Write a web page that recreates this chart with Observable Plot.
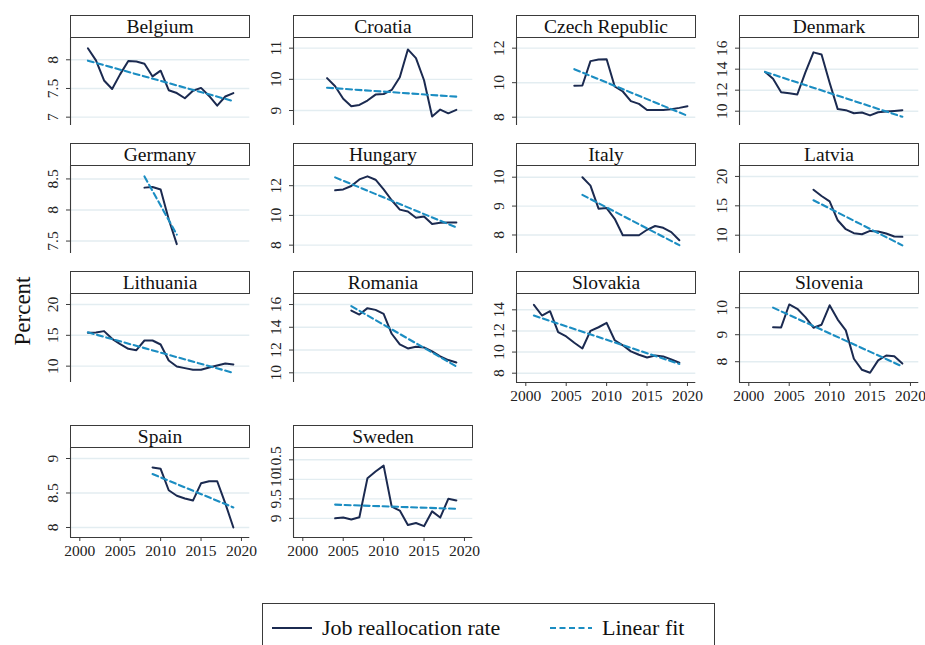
<!DOCTYPE html>
<html>
<head>
<meta charset="utf-8">
<script src="https://cdn.jsdelivr.net/npm/d3@7"></script>
<script src="https://cdn.jsdelivr.net/npm/@observablehq/plot@0.6"></script>
<style>
  body { margin: 0; background: #fff; }
  #chart { position: relative; width: 925px; height: 645px; overflow: hidden;
           font-family: "Liberation Serif", "Times New Roman", serif; color: #1a1a1a; background: #fff; }
  .panel { position: absolute; }
  .ptitle { position: absolute; box-sizing: border-box; border: 1px solid #3a3a3a; background: #fff;
            text-align: center; font-size: 19.5px; line-height: 21px; color: #111; }
  #legend { position: absolute; box-sizing: border-box; border: 1px solid #3a3a3a; background: #fff; }
  #legend span { position: absolute; font-size: 22px; line-height: 24px; color: #111; white-space: nowrap; }
  #legend svg { position: absolute; }
  #ylab { position: absolute; font-size: 23px; transform: rotate(-90deg); transform-origin: center center;
          width: 100px; text-align: center; line-height: 24px; color: #111; }
</style>
</head>
<body>
<div id="chart"></div>
<script>
// ---- data ----
const countries = ["Belgium", "Croatia", "Czech Republic", "Denmark", "Germany", "Hungary", "Italy",
                   "Latvia", "Lithuania", "Romania", "Slovakia", "Slovenia", "Spain", "Sweden"];
const firstYear = [2001, 2003, 2006, 2002, 2008, 2004, 2007, 2008, 2001, 2006, 2001, 2003, 2009, 2004];

const belgium   = [8.20, 7.99, 7.64, 7.49, 7.75, 7.98, 7.97, 7.93, 7.71, 7.81, 7.47, 7.42, 7.33, 7.46, 7.51, 7.37, 7.20, 7.36, 7.42];
const croatia   = [10.04, 9.78, 9.38, 9.14, 9.18, 9.32, 9.51, 9.53, 9.66, 10.07, 10.96, 10.68, 9.97, 8.81, 9.03, 8.91, 9.02];
const czech     = [9.82, 9.84, 11.25, 11.34, 11.36, 9.78, 9.49, 8.93, 8.77, 8.42, 8.42, 8.42, 8.46, 8.54, 8.64];
const denmark   = [13.75, 13.08, 11.81, 11.70, 11.59, 13.70, 15.60, 15.40, 12.70, 10.20, 10.10, 9.80, 9.87, 9.60, 9.90, 9.97, 10.03, 10.10];
const germany   = [8.36, 8.37, 8.33, 7.85, 7.45];
const hungary   = [11.69, 11.75, 11.98, 12.42, 12.63, 12.40, 11.75, 11.02, 10.39, 10.26, 9.84, 9.93, 9.43, 9.50, 9.52, 9.52];
const italy     = [10.00, 9.71, 8.91, 8.93, 8.56, 7.99, 7.99, 7.99, 8.18, 8.31, 8.25, 8.10, 7.82];
const latvia    = [17.74, 16.67, 15.76, 12.54, 11.02, 10.34, 10.17, 10.73, 10.62, 10.28, 9.77, 9.72];
const lithuania = [15.41, 15.46, 15.68, 14.43, 13.57, 12.81, 12.59, 14.16, 14.16, 13.51, 10.92, 9.95, 9.68, 9.41, 9.41, 9.78, 10.11, 10.43, 10.27];
const romania   = [15.47, 15.12, 15.68, 15.53, 15.18, 13.43, 12.49, 12.14, 12.29, 12.23, 11.88, 11.44, 11.12, 10.91];
const slovakia  = [14.47, 13.46, 13.87, 11.89, 11.48, 10.88, 10.34, 12.00, 12.35, 12.76, 11.12, 10.64, 10.07, 9.75, 9.49, 9.68, 9.59, 9.30, 8.99];
const slovenia  = [9.28, 9.27, 10.12, 9.96, 9.65, 9.26, 9.37, 10.09, 9.56, 9.16, 8.11, 7.70, 7.59, 8.05, 8.23, 8.20, 7.93];
const spain     = [8.87, 8.85, 8.54, 8.46, 8.42, 8.39, 8.64, 8.67, 8.67, 8.35, 8.00];
const sweden    = [9.00, 9.02, 8.97, 9.03, 10.03, 10.20, 10.35, 9.30, 9.20, 8.83, 8.88, 8.80, 9.18, 9.02, 9.50, 9.46];

const series = [belgium, croatia, czech, denmark, germany, hungary, italy, latvia, lithuania, romania, slovakia, slovenia, spain, sweden];

const yTicks = [[7, 7.5, 8], [9, 10, 11], [8, 10, 12], [10, 12, 14, 16], [7.5, 8, 8.5], [8, 10, 12], [8, 9, 10],
                [10, 15, 20], [10, 15, 20], [10, 12, 14, 16], [8, 10, 12, 14], [8, 9, 10], [8, 8.5, 9], [9, 9.5, 10, 10.5]];
const yDomains = [[6.855, 8.371], [8.52, 11.31], [7.52, 12.56], [8.64, 16.92], [7.30, 8.70], [7.44, 13.29], [7.36, 10.37],
                  [6.89, 21.69], [7.35, 21.62], [9.15, 16.88], [7.12, 15.45], [7.23, 10.49], [7.855, 9.145], [8.51, 10.79]];
const xTicks = [2000, 2005, 2010, 2015, 2020];
const xDomain = [1998.85, 2021.03];
const legendLabels = ["Job reallocation rate", "Linear fit"];
const yLabel = "Percent";

// ---- layout & style ----
const navy = "#1b2a50", teal = "#1b8dc2", axisCol = "#3a3a3a", gridCol = "#e3edf1";
const chart = document.getElementById("chart");
const colX = [70, 293, 516, 739];
const rowTop = [38, 166, 294, 448];
const rowBottom = [125, 253, 382, 537];
const plotW = 179.3, ML = 46, MR = 3;

countries.forEach((name, i) => {
  const col = i % 4, row = Math.floor(i / 4);
  const hasX = i >= 10;
  const data = series[i].map((v, k) => ({year: firstYear[i] + k, value: v}));
  const h = rowBottom[row] - rowTop[row];
  const MB = hasX ? 30 : 0;
  const marks = [
    Plot.gridY(yTicks[i], {stroke: gridCol, strokeOpacity: 1, strokeWidth: 1.4}),
    Plot.ruleX([xDomain[0]], {stroke: axisCol, strokeWidth: 1.1}),
    Plot.axisY(yTicks[i], {tickSize: 4, tickPadding: 9, tickRotate: -90, tickFormat: d => String(d),
                           label: null, color: "#222", stroke: axisCol}),
    Plot.line(data, {x: "year", y: "value", stroke: navy, strokeWidth: 2}),
    Plot.linearRegressionY(data, {x: "year", y: "value", ci: 0, stroke: teal, strokeWidth: 2.1,
                                   strokeDasharray: "6,3.5"})
  ];
  if (hasX) {
    marks.push(Plot.ruleY([yDomains[i][0]], {stroke: axisCol, strokeWidth: 1.1}));
    marks.push(Plot.axisX(xTicks, {tickSize: 4, tickPadding: 3, tickFormat: d => String(d),
                                    label: null, color: "#222", stroke: axisCol}));
  }
  const svg = Plot.plot({
    width: ML + plotW + MR,
    height: h + MB,
    marginLeft: ML, marginRight: MR, marginTop: 0, marginBottom: MB,
    x: {domain: xDomain, axis: null},
    y: {domain: yDomains[i], axis: null},
    style: {fontFamily: "'Liberation Serif', 'Times New Roman', serif", fontSize: "15.5px",
            color: "#222", background: "transparent", overflow: "visible"},
    marks
  });
  svg.classList.add("panel");
  svg.style.left = (colX[col] - ML) + "px";
  svg.style.top = rowTop[row] + "px";
  chart.appendChild(svg);

  const t = document.createElement("div");
  t.className = "ptitle";
  t.textContent = name;
  t.style.left = colX[col] + "px";
  t.style.top = (rowTop[row] - 23) + "px";
  t.style.width = "180px";
  t.style.height = "23px";
  chart.appendChild(t);
});

// y label
const yl = document.createElement("div");
yl.id = "ylab";
yl.textContent = yLabel;
yl.style.left = (23 - 50) + "px";
yl.style.top = (311 - 12) + "px";
chart.appendChild(yl);

// legend
const lg = document.createElement("div");
lg.id = "legend";
lg.style.left = "262px"; lg.style.top = "603px"; lg.style.width = "453px"; lg.style.height = "60px";
lg.innerHTML = `
  <svg width="40" height="6" style="left:9px;top:21px"><line x1="0" x2="40" y1="3" y2="3" stroke="${navy}" stroke-width="2.2"/></svg>
  <span style="left:59px;top:12px">${legendLabels[0]}</span>
  <svg width="42" height="6" style="left:287px;top:21px"><line x1="0" x2="42" y1="3" y2="3" stroke="${teal}" stroke-width="2.2" stroke-dasharray="6,3.5"/></svg>
  <span style="left:339px;top:12px">${legendLabels[1]}</span>`;
chart.appendChild(lg);
</script>
</body>
</html>
